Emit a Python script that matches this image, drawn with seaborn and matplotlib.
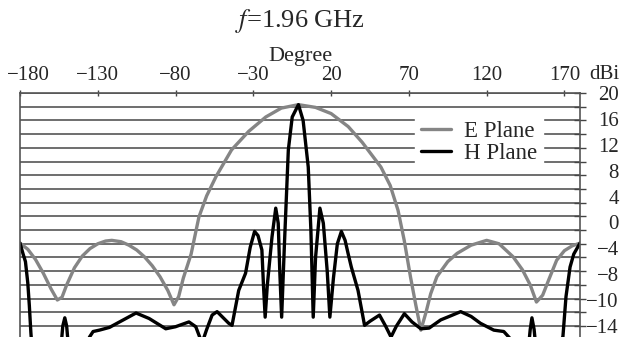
import numpy as np
import pandas as pd
import matplotlib
matplotlib.use('Agg')
import matplotlib.pyplot as plt
import matplotlib.transforms as mtransforms
import seaborn as sns

# E plane readings (degree, dBi on the grid scale)
e_deg = [-180, -175, -170, -165, -160, -156, -153, -150, -145, -140, -135, -130,
         -125, -121, -115, -110, -105, -100, -95, -90, -85, -81, -78, -75, -70,
         -65, -60, -54, -44, -33, -22, -12, -1, 10, 20, 31, 40, 52, 58, 63, 67,
         71, 74.5, 77.7, 81, 84, 88, 95, 101, 110, 120, 128, 137, 143, 148, 152,
         156, 160, 165, 170, 175, 180]
e_val = [-1.9, -2.8, -4.3, -6.3, -8.6, -10.2, -9.8, -8.0, -5.5, -3.8, -2.7, -2.0,
         -1.6, -1.5, -1.7, -2.2, -2.9, -3.9, -5.2, -6.8, -8.8, -10.9, -9.7, -7.0, -3.5,
         1.9, 5.0, 7.8, 11.7, 14.4, 16.5, 17.8, 18.3, 17.9, 17.0, 15.1, 12.8, 9.2, 6.5, 2.9, -1.5,
         -6.8, -11.0, -14.6, -12.0, -9.3, -6.8, -4.6, -3.4, -2.2, -1.5, -2.0, -3.9, -5.8, -8.0, -10.5,
         -9.5, -7.2, -4.4, -3.0, -2.3, -1.9]

# H plane readings (values below the frame are clipped)
h_deg = [-180, -178, -176.5, -175, -174, -173, -172, -160, -154, -152.5, -151.2,
         -150, -148.5, -140, -135.3, -133, -129, -122.5, -116, -105.4, -97, -86.3,
         -80, -71.4, -67, -63, -60, -56.5, -53.3, -45.8, -43.7, -39.4, -35, -32,
         -29.2, -27, -24.5, -23.5, -22.4, -21, -18, -15.6, -14, -13, -11.8, -10,
         -7.5, -5, -1, 2, 5.3, 7, 8.5, 10, 12.8, 15, 17.5, 19.2, 21.5, 24, 26.6,
         29, 31, 33, 37.3, 41.5, 45, 51.1, 55, 58.5, 62, 67.1, 72, 77.7, 83, 90.5,
         97, 103.3, 110, 116, 124.6, 131, 135, 140, 146.5, 148, 149.1, 150.5, 152,
         162, 169, 171, 173.6, 176, 180]
h_val = [-1.9, -3.5, -4.6, -7.7, -11.0, -15.0, -18, -18, -18, -14.0, -12.8,
         -14.0, -18, -18, -15.6, -14.8, -14.6, -14.2, -13.4, -12.1, -12.9, -14.4,
         -14.1, -13.4, -14.1, -16.5, -14.5, -12.4, -11.9, -13.6, -13.9, -8.8, -6.3, -2.5,
         -0.2, -0.8, -2.9, -8.0, -12.7, -8.0, -1.0, 3.2, 1.0, -6.0, -12.7, -2.0,
         11.7, 16.5, 18.3, 16.0, 9.2, 0.0, -12.7, -4.0, 3.2, 1.0, -6.0, -12.7, -7.0, -2.0, -0.2,
         -1.5, -3.5, -5.4, -8.8, -13.9, -13.3, -12.4, -14.0, -15.6, -14.0, -12.2, -13.4, -14.4, -14.3, -13.1,
         -12.5, -11.9, -12.6, -13.6, -14.6, -14.8, -15.8, -18, -18, -14.5, -12.8, -14.5, -18,
         -18, -15.6, -9.7, -5.4, -3.5, -1.9]

x_ticks = list(range(-180, 171, 50))
y_grid = list(range(-14, 21, 2))
y_labels = ['20', '16', '12', '8', '4', '0', '\u22124', '\u22128', '\u221210', '\u221214']

df = pd.concat([
    pd.DataFrame({'deg': e_deg, 'dbi': e_val, 'plane': 'E Plane'}),
    pd.DataFrame({'deg': h_deg, 'dbi': h_val, 'plane': 'H Plane'}),
])

sns.set_theme(style='white')
plt.rcParams['font.family'] = ['Liberation Serif', 'DejaVu Serif']
plt.rcParams['mathtext.fontset'] = 'stix'

fig = plt.figure(figsize=(6.23, 3.37), dpi=100)
ax = fig.add_axes([20 / 623, 0, 560 / 623, 244 / 337])

sns.lineplot(data=df, x='deg', y='dbi', hue='plane', estimator=None, sort=False,
             palette={'E Plane': '#858585', 'H Plane': 'black'}, linewidth=2.4, ax=ax)

ax.set_xlim(-180, 180)
ax.set_ylim(-15.6, 20)

# top x axis
ax.xaxis.tick_top()
ax.xaxis.set_label_position('top')
ax.set_xticks(x_ticks)
ax.set_xticklabels([str(v).replace('-', '\u2212') for v in x_ticks])
ax.set_xlabel('Degree', fontsize=16, labelpad=4)
ax.tick_params(axis='x', direction='inout', length=5, width=1, color='#444444',
               labelsize=15, pad=3)
# keep the first label inside the figure
first = ax.get_xticklabels()[0]
first.set_transform(first.get_transform() + mtransforms.ScaledTranslation(8 / 100, 0, fig.dpi_scale_trans))

# right y axis: ticks on grid, labels spread evenly
ax.yaxis.remove_overlapping_locs = False
ax.yaxis.tick_right()
ax.set_yticks(y_grid)
ax.set_yticklabels([])
ax.set_yticks(np.linspace(20, -14, len(y_labels)), minor=True)
ax.set_yticklabels(y_labels, minor=True)
ax.tick_params(axis='y', which='major', direction='inout', length=8, width=1, color='#444444')
ax.tick_params(axis='y', which='minor', length=0, labelsize=15, pad=28)
for lab in ax.get_yticklabels(minor=True):
    lab.set_horizontalalignment('right')
ax.yaxis.set_label_position('right')
ax.set_ylabel('dBi', rotation=0, fontsize=15)
ax.yaxis.set_label_coords(1.043, 1.115)

ax.grid(False)
ax.yaxis.grid(True, which='major', color='#6e6e6e', linewidth=1.4)

for side in ['top', 'left', 'right']:
    ax.spines[side].set_color('#555555')
    ax.spines[side].set_linewidth(1.2)
ax.spines['bottom'].set_visible(False)

ax.set_title('$f$=1.96 GHz', fontsize=19, pad=14)

leg = ax.legend(title=None, loc='upper right', bbox_to_anchor=(0.955, 0.955),
                fontsize=16.5, frameon=True, facecolor='white', edgecolor='white',
                framealpha=1, fancybox=False, handlelength=1.3, handletextpad=0.6,
                borderpad=0.25, labelspacing=0.05)

fig.savefig('out.png', dpi=100)
